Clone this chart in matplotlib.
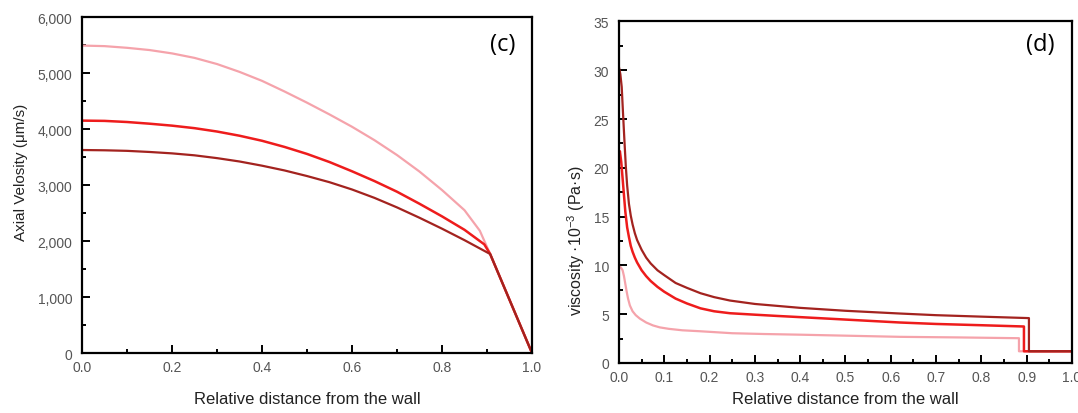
import matplotlib
matplotlib.use("Agg")
import matplotlib.pyplot as plt
from matplotlib.ticker import MultipleLocator, FuncFormatter

plt.rcParams['font.family'] = ['Liberation Sans', 'DejaVu Sans']
plt.rcParams['mathtext.fontset'] = 'custom'
plt.rcParams['mathtext.rm'] = 'Liberation Sans'
plt.rcParams['mathtext.it'] = 'Liberation Sans'

# panel (c): axial velocity, um/s
vel_x = [0.0, 0.05, 0.1, 0.15, 0.2, 0.25, 0.3, 0.35, 0.4, 0.45,
         0.5, 0.55, 0.6, 0.65, 0.7, 0.75, 0.8, 0.85]
vel_pink = [5490, 5480, 5450, 5410, 5350, 5270, 5160, 5020, 4860, 4670,
            4470, 4260, 4040, 3800, 3535, 3240, 2910, 2550]
vel_red = [4150, 4145, 4125, 4095, 4060, 4015, 3955, 3880, 3790, 3680,
           3555, 3410, 3245, 3070, 2880, 2665, 2440, 2200]
vel_dark = [3625, 3620, 3610, 3590, 3565, 3530, 3480, 3420, 3345, 3260,
            3160, 3050, 2920, 2770, 2600, 2415, 2220, 2015]
knee_pink = (0.884, 2184)
knee_red = (0.894, 1940)
joint = (0.907, 1768)
wall = (1.0, 0)

# panel (d): viscosity, 1e-3 Pa.s
visc_dark_x = [0.0, 0.003, 0.006, 0.009, 0.012, 0.015, 0.018, 0.022, 0.026, 0.03,
               0.035, 0.04, 0.05, 0.06, 0.07, 0.085, 0.1, 0.125, 0.15, 0.18,
               0.21, 0.245, 0.3, 0.35, 0.4, 0.5, 0.62, 0.7, 0.8, 0.905, 0.905, 1.0]
visc_dark = [30.3, 29.6, 28.3, 25.5, 22.8, 20.2, 18.2, 16.3, 15.1, 14.2,
             13.3, 12.6, 11.6, 10.8, 10.2, 9.5, 9.0, 8.2, 7.7, 7.15,
             6.75, 6.4, 6.05, 5.85, 5.65, 5.35, 5.07, 4.9, 4.75, 4.6, 1.2, 1.2]
visc_red_x = [0.0, 0.002, 0.005, 0.008, 0.011, 0.014, 0.018, 0.022, 0.026, 0.03,
              0.035, 0.04, 0.05, 0.06, 0.07, 0.085, 0.1, 0.125, 0.15, 0.18,
              0.21, 0.245, 0.3, 0.35, 0.4, 0.5, 0.62, 0.7, 0.8, 0.894, 0.894, 1.0]
visc_red = [21.3, 21.7, 20.6, 18.9, 17.2, 15.5, 13.9, 12.9, 12.0, 11.4,
            10.8, 10.3, 9.5, 8.9, 8.4, 7.8, 7.3, 6.6, 6.1, 5.6,
            5.3, 5.1, 4.95, 4.82, 4.7, 4.45, 4.15, 4.0, 3.87, 3.74, 1.2, 1.2]
visc_pink_x = [0.0, 0.004, 0.008, 0.011, 0.014, 0.017, 0.02, 0.024, 0.03, 0.037,
               0.046, 0.06, 0.075, 0.09, 0.11, 0.14, 0.18, 0.25, 0.32, 0.4,
               0.5, 0.62, 0.75, 0.883, 0.883, 1.0]
visc_pink = [9.9, 9.8, 9.5, 8.9, 8.1, 7.3, 6.6, 5.9, 5.3, 4.9,
             4.55, 4.15, 3.85, 3.65, 3.5, 3.35, 3.25, 3.05, 2.97, 2.9,
             2.8, 2.68, 2.62, 2.54, 1.2, 1.2]

c_pink = '#f5a3ab'
c_red = '#ee1c1c'
c_dark = '#a3231f'
tick_grey = '#555555'

fig = plt.figure(figsize=(10.78, 4.14), dpi=100)
ax1 = fig.add_axes([0.0761, 0.1449, 0.4174, 0.8116])
ax2 = fig.add_axes([0.5742, 0.1208, 0.4202, 0.8249])

ax1.plot(vel_x + [knee_pink[0], joint[0], wall[0]], vel_pink + [knee_pink[1], joint[1], wall[1]],
         color=c_pink, lw=1.6)
ax1.plot(vel_x + [knee_red[0], joint[0], wall[0]], vel_red + [knee_red[1], joint[1], wall[1]],
         color=c_red, lw=1.8)
ax1.plot(vel_x + [joint[0], wall[0]], vel_dark + [joint[1], wall[1]],
         color=c_dark, lw=1.6)

ax2.plot(visc_pink_x, visc_pink, color=c_pink, lw=1.6)
ax2.plot(visc_red_x, visc_red, color=c_red, lw=1.8)
ax2.plot(visc_dark_x, visc_dark, color=c_dark, lw=1.6)

ax1.set_xlim(0, 1.0)
ax1.set_ylim(0, 6000)
ax1.xaxis.set_major_locator(MultipleLocator(0.2))
ax1.xaxis.set_minor_locator(MultipleLocator(0.1))
ax1.yaxis.set_major_locator(MultipleLocator(1000))
ax1.yaxis.set_minor_locator(MultipleLocator(500))
ax1.yaxis.set_major_formatter(FuncFormatter(lambda v, p: f"{int(v):,}"))
ax1.xaxis.set_major_formatter(FuncFormatter(lambda v, p: f"{v:.1f}"))

ax2.set_xlim(0, 1.0)
ax2.set_ylim(0, 35)
ax2.xaxis.set_major_locator(MultipleLocator(0.1))
ax2.xaxis.set_minor_locator(MultipleLocator(0.05))
ax2.yaxis.set_major_locator(MultipleLocator(5))
ax2.yaxis.set_minor_locator(MultipleLocator(2.5))
ax2.xaxis.set_major_formatter(FuncFormatter(lambda v, p: f"{v:.1f}"))

for ax in (ax1, ax2):
    for s in ax.spines.values():
        s.set_linewidth(1.6)
    ax.tick_params(which='both', direction='in', top=False, right=False,
                   labelsize=10, labelcolor=tick_grey, width=1.4)
    ax.tick_params(which='major', length=6)
    ax.tick_params(which='minor', length=3)
    ax.tick_params(axis='y', pad=7)
    ax.tick_params(axis='x', pad=5)

ax1.set_xlabel('Relative distance from the wall', fontsize=12, color='#222222', labelpad=12)
ax2.set_xlabel('Relative distance from the wall', fontsize=12, color='#222222', labelpad=5)

ax1.set_ylabel('Axial Velosity (\u03bcm/s)', fontsize=11, color='#222222')
ax1.yaxis.set_label_coords(-0.12, 0.54)
ax2.set_ylabel('viscosity \u00b710$^{-3}$ (Pa\u00b7s)', fontsize=11.5, color='#222222')
ax2.yaxis.set_label_coords(-0.07, 0.36)

ax1.text(0.935, 0.92, '(c)', transform=ax1.transAxes, fontsize=17,
         family='Open Sans', ha='center', va='center')
ax2.text(0.93, 0.935, '(d)', transform=ax2.transAxes, fontsize=17,
         family='Open Sans', ha='center', va='center')

fig.savefig('out.png', dpi=100)
